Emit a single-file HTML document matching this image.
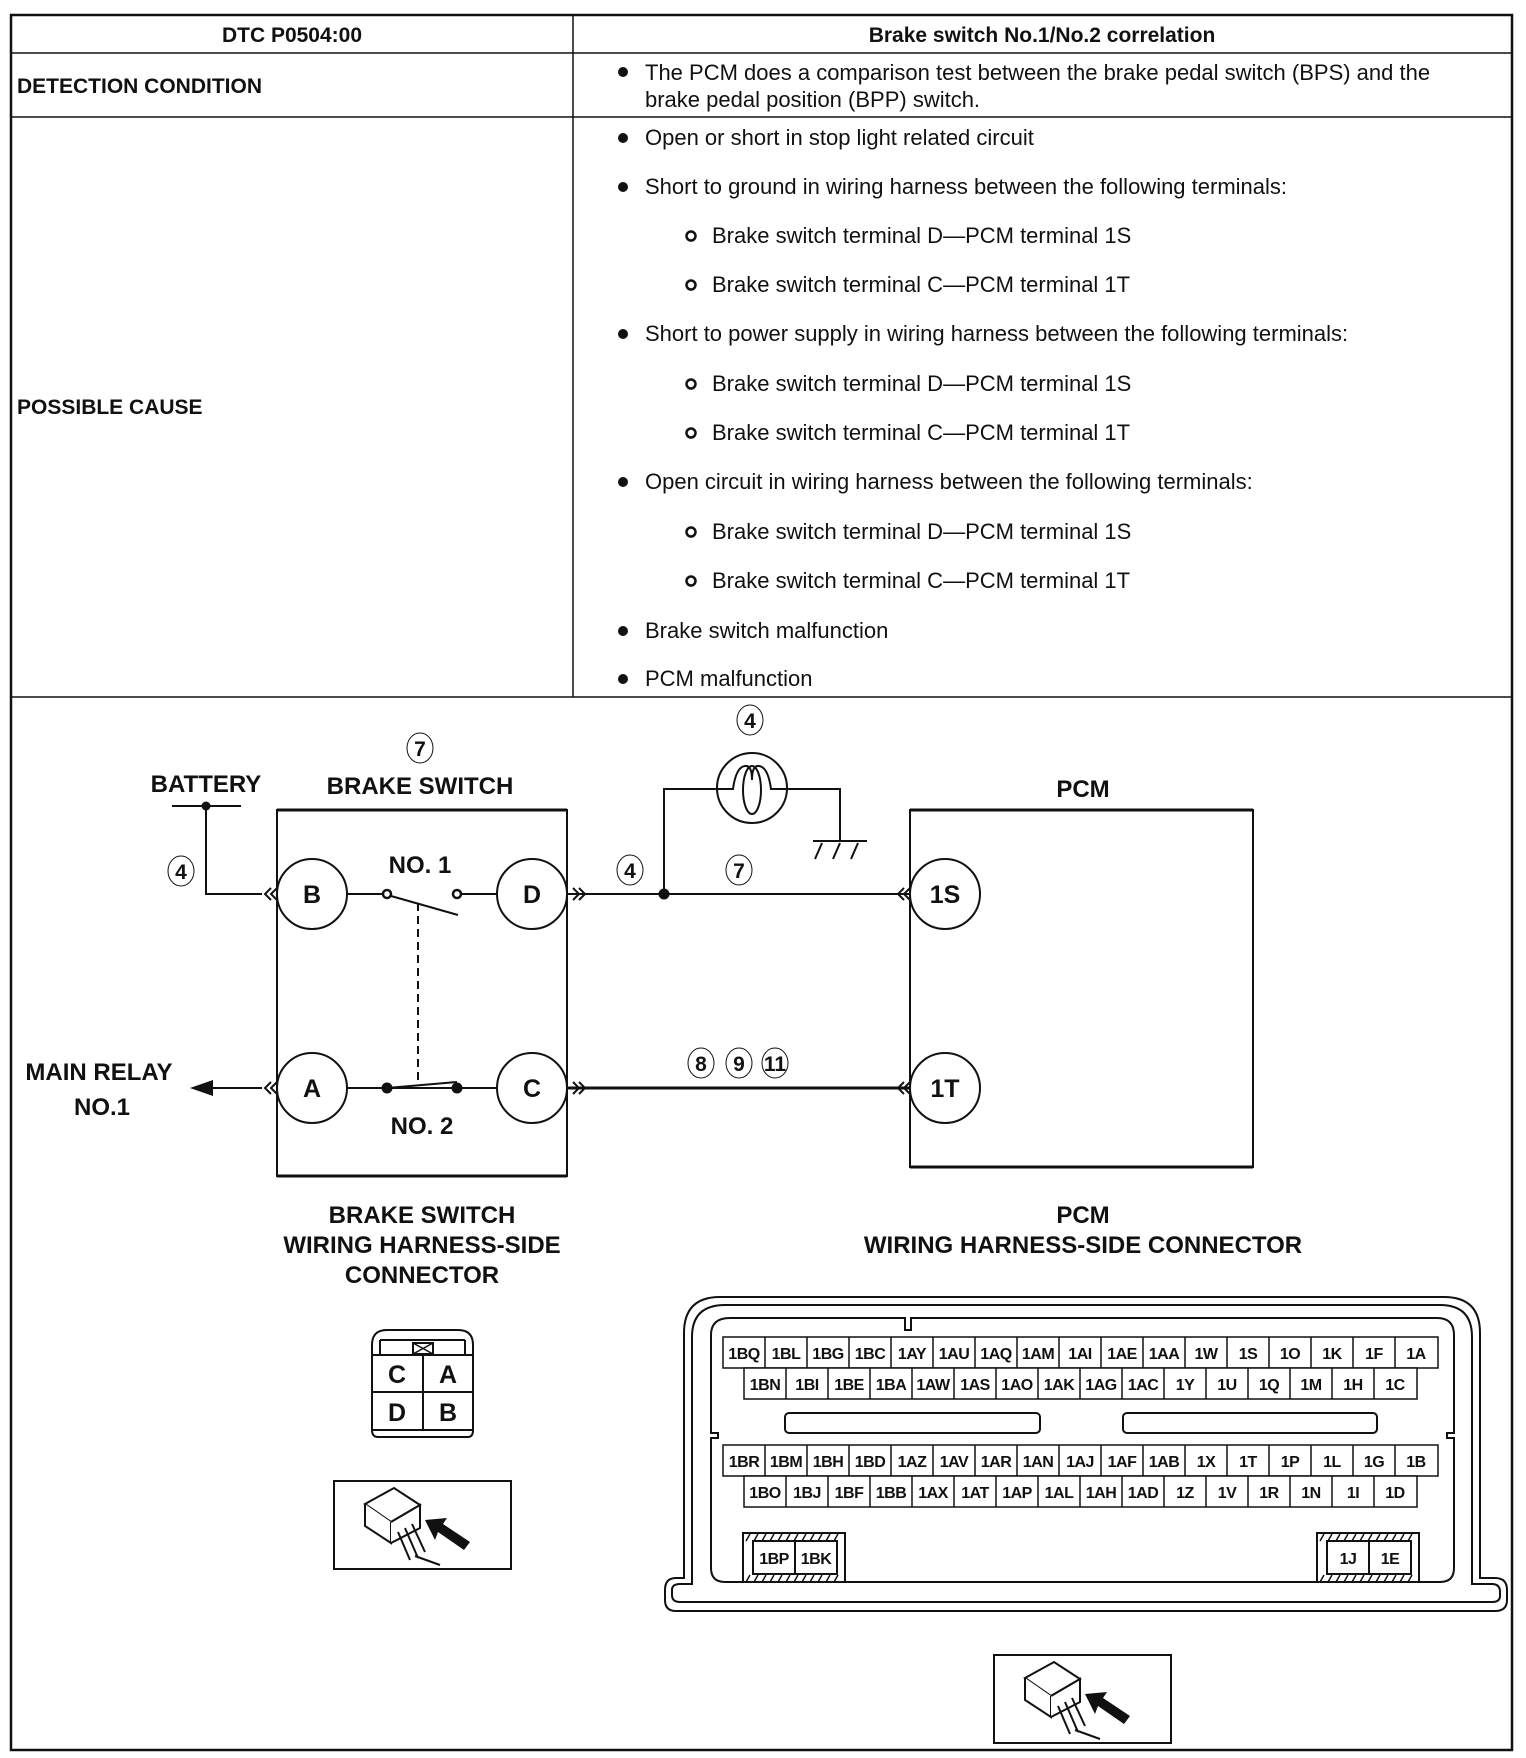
<!DOCTYPE html>
<html><head><meta charset="utf-8"><style>
html,body{margin:0;padding:0;background:#fff;}
svg{display:block;}
text{font-family:"Liberation Sans",sans-serif;fill:#111;}
.t{font-size:22px;}
.h{font-size:21px;font-weight:bold;}
.b{font-weight:bold;}
.d{font-size:25px;font-weight:bold;}
.c{font-size:16px;font-weight:bold;letter-spacing:-0.5px;}
</style></head><body>
<svg width="1526" height="1758" viewBox="0 0 1526 1758" xmlns="http://www.w3.org/2000/svg">
<!-- table -->
<rect x="11" y="15" width="1501" height="1735" fill="none" stroke="#111" stroke-width="2.5"/>
<line x1="11" y1="53" x2="1512" y2="53" stroke="#111" stroke-width="1.5"/>
<line x1="11" y1="117" x2="1512" y2="117" stroke="#111" stroke-width="1.5"/>
<line x1="11" y1="697" x2="1512" y2="697" stroke="#111" stroke-width="1.5"/>
<line x1="573" y1="15" x2="573" y2="697" stroke="#111" stroke-width="1.5"/>
<text class="h" x="292" y="42" text-anchor="middle">DTC P0504:00</text>
<text class="h" x="1042" y="42" text-anchor="middle">Brake switch No.1/No.2 correlation</text>
<text class="h" x="17" y="93">DETECTION CONDITION</text>
<text class="h" x="17" y="414">POSSIBLE CAUSE</text>
<g class="t">
<circle cx="623" cy="72" r="5" fill="#111"/>
<text x="645" y="80">The PCM does a comparison test between the brake pedal switch (BPS) and the</text>
<text x="645" y="107">brake pedal position (BPP) switch.</text>
<g fill="#111">
<circle cx="623" cy="138" r="5"/><circle cx="623" cy="187" r="5"/><circle cx="623" cy="334" r="5"/><circle cx="623" cy="482" r="5"/><circle cx="623" cy="631" r="5"/><circle cx="623" cy="679" r="5"/>
</g>
<g fill="none" stroke="#111" stroke-width="2.5">
<circle cx="691" cy="236" r="4.5"/><circle cx="691" cy="285" r="4.5"/><circle cx="691" cy="384" r="4.5"/><circle cx="691" cy="433" r="4.5"/><circle cx="691" cy="532" r="4.5"/><circle cx="691" cy="581" r="4.5"/>
</g>
<text x="645" y="145">Open or short in stop light related circuit</text>
<text x="645" y="194">Short to ground in wiring harness between the following terminals:</text>
<text x="712" y="243">Brake switch terminal D—PCM terminal 1S</text>
<text x="712" y="292">Brake switch terminal C—PCM terminal 1T</text>
<text x="645" y="341">Short to power supply in wiring harness between the following terminals:</text>
<text x="712" y="391">Brake switch terminal D—PCM terminal 1S</text>
<text x="712" y="440">Brake switch terminal C—PCM terminal 1T</text>
<text x="645" y="489">Open circuit in wiring harness between the following terminals:</text>
<text x="712" y="539">Brake switch terminal D—PCM terminal 1S</text>
<text x="712" y="588">Brake switch terminal C—PCM terminal 1T</text>
<text x="645" y="638">Brake switch malfunction</text>
<text x="645" y="686">PCM malfunction</text>
</g>

<!-- diagram -->
<g stroke="#111" stroke-width="2" fill="none">
<rect x="277" y="810" width="290" height="366"/>
<line x1="277" y1="810" x2="567" y2="810" stroke-width="3"/>
<line x1="277" y1="1176" x2="567" y2="1176" stroke-width="3"/>
<rect x="910" y="810" width="343" height="357"/>
<line x1="910" y1="810" x2="1253" y2="810" stroke-width="3"/>
<line x1="910" y1="1167" x2="1253" y2="1167" stroke-width="3"/>
<circle cx="312" cy="894" r="35" fill="#fff"/>
<circle cx="532" cy="894" r="35" fill="#fff"/>
<circle cx="312" cy="1088" r="35" fill="#fff"/>
<circle cx="532" cy="1088" r="35" fill="#fff"/>
<circle cx="945" cy="894" r="35" fill="#fff"/>
<circle cx="945" cy="1088" r="35" fill="#fff"/>
<line x1="172" y1="806" x2="241" y2="806"/>
<polyline points="206,806 206,894 262,894"/>
<line x1="347" y1="894" x2="383" y2="894"/>
<line x1="461" y1="894" x2="497" y2="894"/>
<circle cx="387" cy="894" r="4" stroke-width="2.5"/>
<circle cx="457" cy="894" r="4" stroke-width="2.5"/>
<line x1="391" y1="896" x2="458" y2="915"/>
<line x1="418" y1="903" x2="418" y2="1085" stroke-dasharray="8,5"/>
<line x1="347" y1="1088" x2="497" y2="1088"/>
<line x1="387" y1="1088" x2="457" y2="1082"/>
<line x1="200" y1="1088" x2="262" y2="1088"/>
<line x1="567" y1="894" x2="910" y2="894"/>
<line x1="567" y1="1088" x2="910" y2="1088" stroke-width="3"/>
<polyline points="664,894 664,789 717,789"/>
<polyline points="787,789 840,789 840,841"/>
<circle cx="752" cy="788" r="35" fill="#fff"/>
<path d="M717,789 H733 Q736,767 745,766 Q752,765 752,780"/>
<path d="M787,789 H771 Q768,767 759,766 Q752,765 752,780"/>
<ellipse cx="752" cy="790" rx="9" ry="24"/>
<line x1="813" y1="841" x2="867" y2="841"/>
<line x1="822" y1="843" x2="815" y2="859"/><line x1="840" y1="843" x2="833" y2="859"/><line x1="858" y1="843" x2="851" y2="859"/>
<path d="M271,888 l-6,6 l6,6 M277,888 l-6,6 l6,6"/>
<path d="M271,1082 l-6,6 l6,6 M277,1082 l-6,6 l6,6"/>
<path d="M904,888 l-6,6 l6,6 M910,888 l-6,6 l6,6"/>
<path d="M904,1082 l-6,6 l6,6 M910,1082 l-6,6 l6,6"/>
<path d="M573,888 l6,6 l-6,6 M579,888 l6,6 l-6,6"/>
<path d="M573,1082 l6,6 l-6,6 M579,1082 l6,6 l-6,6"/>
<g stroke-width="1">
<ellipse cx="181" cy="871" rx="13" ry="15"/>
<ellipse cx="420" cy="748" rx="13" ry="15"/>
<ellipse cx="750" cy="720" rx="13" ry="15"/>
<ellipse cx="630" cy="870" rx="13" ry="15"/>
<ellipse cx="739" cy="870" rx="13" ry="15"/>
<ellipse cx="701" cy="1063" rx="13" ry="15"/>
<ellipse cx="739" cy="1063" rx="13" ry="15"/>
<ellipse cx="775" cy="1063" rx="13" ry="15"/>
</g>
</g>
<g fill="#111">
<circle cx="206" cy="806" r="4.5"/>
<circle cx="664" cy="894" r="5.5"/>
<circle cx="387" cy="1088" r="5.5"/>
<circle cx="457" cy="1088" r="5.5"/>
<polygon points="190,1088 213,1080 213,1096"/>
</g>
<g class="d" text-anchor="middle">
<text x="312" y="903">B</text><text x="532" y="903">D</text>
<text x="312" y="1097">A</text><text x="532" y="1097">C</text>
<text x="945" y="903">1S</text><text x="945" y="1097">1T</text>
</g>
<g font-size="24" font-weight="bold" text-anchor="middle">
<text x="206" y="792">BATTERY</text>
<text x="420" y="794">BRAKE SWITCH</text>
<text x="1083" y="797">PCM</text>
<text x="420" y="873">NO. 1</text>
<text x="422" y="1134">NO. 2</text>
<text x="99" y="1080">MAIN RELAY</text>
<text x="102" y="1115">NO.1</text>
<text x="422" y="1223">BRAKE SWITCH</text>
<text x="422" y="1253">WIRING HARNESS-SIDE</text>
<text x="422" y="1283">CONNECTOR</text>
<text x="1083" y="1223">PCM</text>
<text x="1083" y="1253">WIRING HARNESS-SIDE CONNECTOR</text>
</g>
<g font-size="21" font-weight="bold" text-anchor="middle">
<text x="181" y="879">4</text><text x="420" y="756">7</text><text x="750" y="728">4</text>
<text x="630" y="878">4</text><text x="739" y="878">7</text>
<text x="701" y="1071">8</text><text x="739" y="1071">9</text><text x="775" y="1071">11</text>
</g>

<!-- small connector -->
<g stroke="#111" stroke-width="2" fill="none">
<path d="M378,1437 H468 Q473,1437 473,1430 V1345 Q473,1330 458,1330 H387 Q372,1330 372,1345 V1430 Q372,1437 378,1437Z"/>
<line x1="372" y1="1355" x2="473" y2="1355"/>
<line x1="380" y1="1355" x2="380" y2="1340"/><line x1="465" y1="1355" x2="465" y2="1340"/>
<line x1="380" y1="1340" x2="465" y2="1340"/>
<line x1="372" y1="1392" x2="473" y2="1392"/>
<line x1="423" y1="1355" x2="423" y2="1430"/>
<line x1="372" y1="1430" x2="473" y2="1430"/>
<rect x="413" y="1343" width="20" height="11"/>
<path d="M413,1343 L433,1354 M433,1343 L413,1354" stroke-width="1.5"/>
</g>
<g class="d" text-anchor="middle" font-size="22">
<text x="397" y="1383">C</text><text x="448" y="1383">A</text>
<text x="397" y="1421">D</text><text x="448" y="1421">B</text>
</g>

<g id="ic">
<rect x="334" y="1481" width="177" height="88" fill="none" stroke="#111" stroke-width="2"/>
<g stroke="#111" stroke-width="2" fill="#fff">
<path d="M365,1504 L394,1488 L420,1505 L391,1522 Z"/>
<path d="M365,1504 V1526 L391,1543 V1522"/>
<path d="M391,1522 L420,1505 V1528 L391,1543"/>
<line x1="398" y1="1532" x2="410" y2="1560"/><line x1="405" y1="1528" x2="418" y2="1558"/><line x1="412" y1="1524" x2="425" y2="1552"/>
<line x1="415" y1="1556" x2="440" y2="1565"/>
</g>
<polygon points="425,1520 447,1518 443,1524 470,1542 464,1550 438,1532 435,1540" fill="#111"/>
</g>
<use href="#ic" x="660" y="174"/>

<!-- PCM connector -->
<g stroke="#111" stroke-width="2" fill="none">
<path d="M720,1297 H1444 Q1480,1297 1480,1333 V1578 H1495 Q1507,1578 1507,1590 V1600 Q1507,1611 1495,1611 H676 Q665,1611 665,1600 V1590 Q665,1578 676,1578 H684 V1333 Q684,1297 720,1297Z"/>
<path d="M725,1305 H1440 Q1472,1305 1472,1337 V1584 H1492 Q1500,1584 1500,1592 V1596 Q1500,1602 1492,1602 H680 Q672,1602 672,1595 V1590 Q672,1584 680,1584 H692 V1337 Q692,1305 725,1305Z"/>
<path d="M730,1318 H905 V1330 H911 V1318 H1437 Q1454,1318 1454,1335 V1433 H1447 V1438 H1454 V1568 Q1454,1582 1440,1582 H725 Q711,1582 711,1568 V1438 H718 V1433 H711 V1335 Q711,1318 730,1318Z"/>
<rect x="785" y="1413" width="255" height="20" rx="4"/>
<rect x="1123" y="1413" width="254" height="20" rx="4"/>
</g>
<g stroke="#111" stroke-width="2" fill="none">
<rect x="743" y="1533" width="102" height="49"/><rect x="753" y="1541" width="84" height="33" fill="#fff"/>
<rect x="1317" y="1533" width="102" height="49"/><rect x="1327" y="1541" width="84" height="33" fill="#fff"/>
<line x1="795" y1="1541" x2="795" y2="1574"/><line x1="1369" y1="1541" x2="1369" y2="1574"/>
<path d="M746,1541 l4,-7 M754,1541 l4,-7 M762,1541 l4,-7 M770,1541 l4,-7 M778,1541 l4,-7 M786,1541 l4,-7 M794,1541 l4,-7 M802,1541 l4,-7 M810,1541 l4,-7 M818,1541 l4,-7 M826,1541 l4,-7 M834,1541 l4,-7 M746,1582 l4,-7 M754,1582 l4,-7 M762,1582 l4,-7 M770,1582 l4,-7 M778,1582 l4,-7 M786,1582 l4,-7 M794,1582 l4,-7 M802,1582 l4,-7 M810,1582 l4,-7 M818,1582 l4,-7 M826,1582 l4,-7 M834,1582 l4,-7" stroke-width="1.5"/>
<path d="M1320,1541 l4,-7 M1328,1541 l4,-7 M1336,1541 l4,-7 M1344,1541 l4,-7 M1352,1541 l4,-7 M1360,1541 l4,-7 M1368,1541 l4,-7 M1376,1541 l4,-7 M1384,1541 l4,-7 M1392,1541 l4,-7 M1400,1541 l4,-7 M1408,1541 l4,-7 M1320,1582 l4,-7 M1328,1582 l4,-7 M1336,1582 l4,-7 M1344,1582 l4,-7 M1352,1582 l4,-7 M1360,1582 l4,-7 M1368,1582 l4,-7 M1376,1582 l4,-7 M1384,1582 l4,-7 M1392,1582 l4,-7 M1400,1582 l4,-7 M1408,1582 l4,-7" stroke-width="1.5"/>
</g>
<g class="c" text-anchor="middle">
<text x="774" y="1564">1BP</text><text x="816" y="1564">1BK</text>
<text x="1348" y="1564">1J</text><text x="1390" y="1564">1E</text>
</g>
<g stroke="#111" stroke-width="1.5" fill="#fff">
<rect x="723" y="1337" width="715" height="31"/>
<rect x="744" y="1368" width="673" height="31"/>
<rect x="723" y="1445" width="715" height="31"/>
<rect x="744" y="1476" width="673" height="31"/>
<path d="M765,1337v31M807,1337v31M849,1337v31M891,1337v31M933,1337v31M975,1337v31M1017,1337v31M1059,1337v31M1101,1337v31M1143,1337v31M1185,1337v31M1227,1337v31M1269,1337v31M1311,1337v31M1353,1337v31M1395,1337v31"/>
<path d="M765,1445v31M807,1445v31M849,1445v31M891,1445v31M933,1445v31M975,1445v31M1017,1445v31M1059,1445v31M1101,1445v31M1143,1445v31M1185,1445v31M1227,1445v31M1269,1445v31M1311,1445v31M1353,1445v31M1395,1445v31"/>
<path d="M786,1368v31M828,1368v31M870,1368v31M912,1368v31M954,1368v31M996,1368v31M1038,1368v31M1080,1368v31M1122,1368v31M1164,1368v31M1206,1368v31M1248,1368v31M1290,1368v31M1332,1368v31M1374,1368v31"/>
<path d="M786,1476v31M828,1476v31M870,1476v31M912,1476v31M954,1476v31M996,1476v31M1038,1476v31M1080,1476v31M1122,1476v31M1164,1476v31M1206,1476v31M1248,1476v31M1290,1476v31M1332,1476v31M1374,1476v31"/>
</g>
<g class="c" text-anchor="middle">
<text x="744" y="1359">1BQ</text><text x="786" y="1359">1BL</text><text x="828" y="1359">1BG</text><text x="870" y="1359">1BC</text><text x="912" y="1359">1AY</text><text x="954" y="1359">1AU</text><text x="996" y="1359">1AQ</text><text x="1038" y="1359">1AM</text><text x="1080" y="1359">1AI</text><text x="1122" y="1359">1AE</text><text x="1164" y="1359">1AA</text><text x="1206" y="1359">1W</text><text x="1248" y="1359">1S</text><text x="1290" y="1359">1O</text><text x="1332" y="1359">1K</text><text x="1374" y="1359">1F</text><text x="1416" y="1359">1A</text>
<text x="765" y="1390">1BN</text><text x="807" y="1390">1BI</text><text x="849" y="1390">1BE</text><text x="891" y="1390">1BA</text><text x="933" y="1390">1AW</text><text x="975" y="1390">1AS</text><text x="1017" y="1390">1AO</text><text x="1059" y="1390">1AK</text><text x="1101" y="1390">1AG</text><text x="1143" y="1390">1AC</text><text x="1185" y="1390">1Y</text><text x="1227" y="1390">1U</text><text x="1269" y="1390">1Q</text><text x="1311" y="1390">1M</text><text x="1353" y="1390">1H</text><text x="1395" y="1390">1C</text>
<text x="744" y="1467">1BR</text><text x="786" y="1467">1BM</text><text x="828" y="1467">1BH</text><text x="870" y="1467">1BD</text><text x="912" y="1467">1AZ</text><text x="954" y="1467">1AV</text><text x="996" y="1467">1AR</text><text x="1038" y="1467">1AN</text><text x="1080" y="1467">1AJ</text><text x="1122" y="1467">1AF</text><text x="1164" y="1467">1AB</text><text x="1206" y="1467">1X</text><text x="1248" y="1467">1T</text><text x="1290" y="1467">1P</text><text x="1332" y="1467">1L</text><text x="1374" y="1467">1G</text><text x="1416" y="1467">1B</text>
<text x="765" y="1498">1BO</text><text x="807" y="1498">1BJ</text><text x="849" y="1498">1BF</text><text x="891" y="1498">1BB</text><text x="933" y="1498">1AX</text><text x="975" y="1498">1AT</text><text x="1017" y="1498">1AP</text><text x="1059" y="1498">1AL</text><text x="1101" y="1498">1AH</text><text x="1143" y="1498">1AD</text><text x="1185" y="1498">1Z</text><text x="1227" y="1498">1V</text><text x="1269" y="1498">1R</text><text x="1311" y="1498">1N</text><text x="1353" y="1498">1I</text><text x="1395" y="1498">1D</text>
</g>
</svg>
</body></html>
